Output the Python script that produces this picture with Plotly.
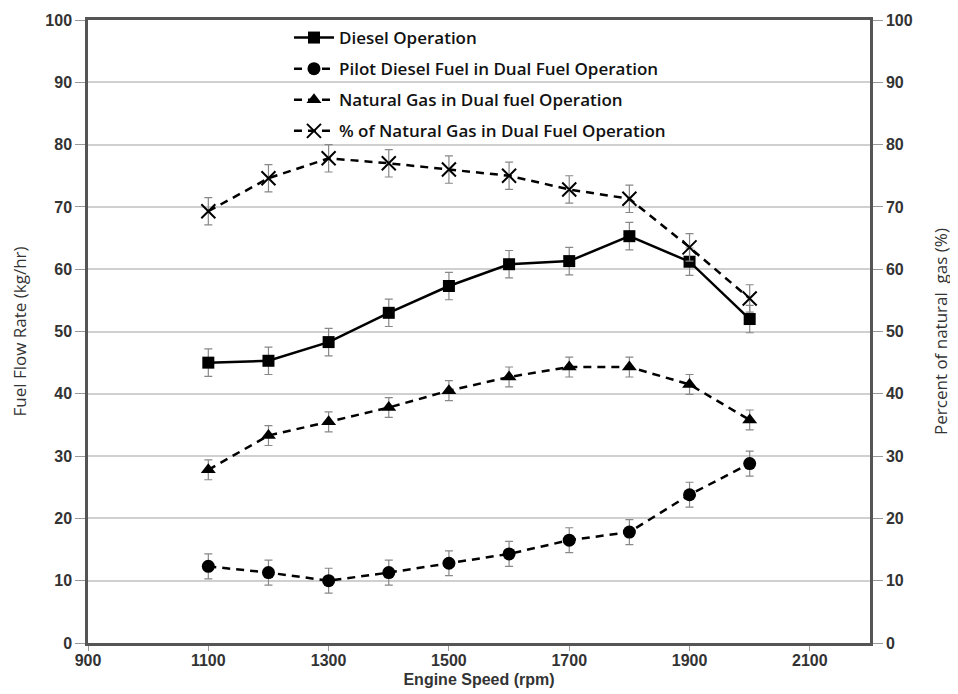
import plotly.graph_objects as go

rpm = [1100, 1200, 1300, 1400, 1500, 1600, 1700, 1800, 1900, 2000]
diesel = [45.0, 45.3, 48.3, 53.0, 57.3, 60.8, 61.3, 65.3, 61.2, 52.0]
pilot = [12.3, 11.3, 10.0, 11.3, 12.8, 14.3, 16.5, 17.8, 23.8, 28.8]
natgas = [27.8, 33.3, 35.5, 37.8, 40.5, 42.7, 44.3, 44.3, 41.5, 35.8]
pct_ng = [69.3, 74.6, 77.8, 77.0, 76.0, 75.0, 72.8, 71.3, 63.5, 55.3]
err_diesel = 2.2
err_pilot = 2.0
err_ng = 1.6
err_pct = 2.2

x_ticks = [900, 1100, 1300, 1500, 1700, 1900, 2100]
y_ticks = list(range(0, 101, 10))

fig = go.Figure()

def err(v):
    return dict(type="constant", value=v, color="#888888", thickness=1.2, width=4)

fig.add_trace(go.Scatter(
    x=rpm, y=diesel, name="Diesel Operation", legendgroup="a",
    mode="lines+markers", line=dict(color="black", width=2.5),
    marker=dict(symbol="square", size=12, color="black"),
    error_y=err(err_diesel)))
fig.add_trace(go.Scatter(
    x=rpm, y=pilot, name="Pilot Diesel Fuel in Dual Fuel Operation", legendgroup="b",
    mode="lines+markers", line=dict(color="black", width=2.5, dash="8px,6px"),
    marker=dict(symbol="circle", size=13, color="black"),
    error_y=err(err_pilot)))
fig.add_trace(go.Scatter(
    x=rpm, y=natgas, name="Natural Gas in Dual fuel Operation", legendgroup="c",
    mode="lines+markers", line=dict(color="black", width=2.5, dash="8px,6px"),
    marker=dict(symbol="triangle-up", size=13, color="black"),
    error_y=err(err_ng)))
fig.add_trace(go.Scatter(
    x=rpm, y=pct_ng, name="% of Natural Gas in Dual Fuel Operation", legendgroup="d",
    mode="lines+markers", line=dict(color="black", width=2.5, dash="8px,6px"),
    marker=dict(symbol="x-thin-open", size=14, color="black", line=dict(width=2, color="black")),
    error_y=err(err_pct), yaxis="y2"))

tickfont = dict(family="Liberation Sans", size=16, color="#333333", weight="bold")
titlefont = dict(family="Open Sans", size=17, color="#333333")

fig.update_layout(
    width=958, height=694,
    margin=dict(l=80, r=96, t=12, b=59),
    paper_bgcolor="white", plot_bgcolor="white",
    showlegend=True,
    legend=dict(x=0.257, y=1.0, xanchor="left", yanchor="top",
                bgcolor="rgba(0,0,0,0)",
                font=dict(family="Open Sans", size=17, color="#111111", weight=600),
                tracegroupgap=6, itemwidth=40),
    xaxis=dict(range=[900, 2200], tickvals=x_ticks, ticktext=[str(t) for t in x_ticks],
               automargin=False,
               showgrid=False, zeroline=False, showline=True, linecolor="#555555", linewidth=2.5,
               mirror=True, ticks="outside", ticklen=5, tickcolor="#999999",
               ticklabelstandoff=-4,
               tickfont=dict(family="Liberation Sans Narrow, Liberation Sans", size=16, color="#333333", weight="bold"),
               title=dict(text="Engine Speed (rpm)", font=dict(family="Liberation Sans Narrow, Liberation Sans", size=16, color="#333333", weight="bold"), standoff=6)),
    yaxis=dict(range=[0, 100], tickvals=y_ticks, showgrid=True, gridcolor="#d0d0d0", gridwidth=1.5,
               automargin=False,
               zeroline=False, showline=True, linecolor="#555555", linewidth=2.5,
               ticks="outside", ticklen=10, tickcolor="#999999", tickfont=tickfont,
               title=dict(text="Fuel Flow Rate (kg/hr)", font=titlefont, standoff=18)),
    yaxis2=dict(range=[0, 100], tickvals=y_ticks, overlaying="y", side="right", showgrid=False,
                automargin=False,
                zeroline=False, showline=True, linecolor="#555555", linewidth=2.5,
                ticks="outside", ticklen=10, tickcolor="#999999", tickfont=tickfont,
                title=dict(text="Percent of natural  gas (%)", font=titlefont, standoff=24)),
)

fig.write_html("out.html")
